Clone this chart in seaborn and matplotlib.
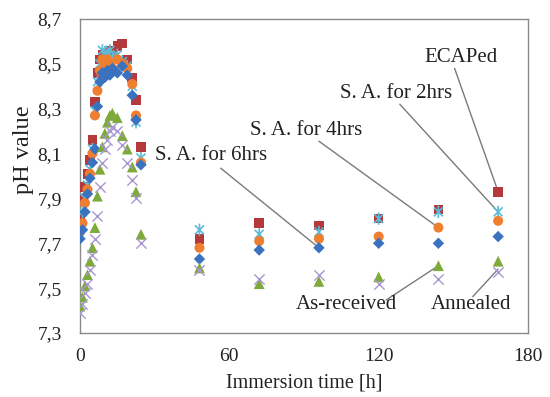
import numpy as np
import pandas as pd
import matplotlib
matplotlib.use("Agg")
import matplotlib.pyplot as plt
from matplotlib.path import Path
from matplotlib.ticker import FuncFormatter, FixedLocator
import seaborn as sns

# ---- data ----
time_h = [0, 1, 2, 3, 4, 5, 6, 7, 8, 9, 10, 11, 12, 13, 15, 17, 19, 21, 22.5, 24.5,
          48, 72, 96, 120, 144, 168]
ecaped = [7.81, 7.90, 7.95, 8.01, 8.07, 8.16, 8.33, 8.46, 8.52, 8.54, 8.53, 8.55, 8.56,
          8.55, 8.58, 8.59, 8.52, 8.44, 8.34, 8.13, 7.72, 7.79, 7.78, 7.81, 7.85, 7.93]
sa_2hrs = [7.77, 7.84, 7.90, 7.96, 8.03, 8.12, 8.29, 8.42, 8.50, 8.56, 8.55, 8.54, 8.56,
           8.53, 8.54, 8.51, 8.49, 8.40, 8.24, 8.08, 7.76, 7.74, 7.75, 7.81, 7.84, 7.84]
sa_4hrs = [7.75, 7.79, 7.88, 7.94, 8.01, 8.10, 8.27, 8.38, 8.47, 8.52, 8.50, 8.52, 8.50,
           8.48, 8.52, 8.50, 8.48, 8.41, 8.27, 8.06, 7.68, 7.71, 7.72, 7.73, 7.77, 7.80]
sa_6hrs = [7.72, 7.76, 7.84, 7.92, 7.99, 8.06, 8.12, 8.31, 8.42, 8.46, 8.44, 8.47, 8.45,
           8.48, 8.46, 8.49, 8.45, 8.36, 8.25, 8.05, 7.63, 7.67, 7.68, 7.70, 7.70, 7.73]
as_received = [7.42, 7.46, 7.51, 7.56, 7.62, 7.68, 7.77, 7.91, 8.03, 8.13, 8.19, 8.24, 8.27,
               8.28, 8.26, 8.18, 8.12, 8.04, 7.93, 7.74, 7.59, 7.52, 7.53, 7.55, 7.60, 7.62]
annealed = [7.39, 7.43, 7.48, 7.52, 7.58, 7.65, 7.72, 7.82, 7.95, 8.06, 8.12, 8.16, 8.20,
            8.22, 8.20, 8.14, 8.06, 7.98, 7.90, 7.70, 7.58, 7.54, 7.56, 7.52, 7.54, 7.57]

series_names = ["ECAPed", "S. A. for 2hrs", "S. A. for 4hrs", "S. A. for 6hrs",
                "As-received", "Annealed"]
series_values = [ecaped, sa_2hrs, sa_4hrs, sa_6hrs, as_received, annealed]

x_ticks = [0, 60, 120, 180]
y_ticks = [7.3, 7.5, 7.7, 7.9, 8.1, 8.3, 8.5, 8.7]

# label positions (data coords) and the point each leader line points to
label_text = ["ECAPed", "S. A. for 2hrs", "S. A. for 4hrs", "S. A. for 6hrs",
              "As-received", "Annealed"]
label_xy = [(153.0, 8.53), (127.0, 8.37), (91.0, 8.205), (52.5, 8.09),
            (107.0, 7.425), (157.0, 7.425)]
line_start = [(150.5, 8.48), (128.5, 8.32), (96.0, 8.155), (56.5, 8.035),
              (123.0, 7.447), (157.8, 7.462)]
line_end = [(168, 7.93), (168, 7.84), (144, 7.77), (96, 7.68), (144, 7.60), (168, 7.585)]

# ---- styling ----
sns.set_theme(style="white")
plt.rcParams["font.family"] = ["Liberation Serif", "DejaVu Serif"]

asterisk = Path([(0, -1), (0, 1), (-0.72, -0.72), (0.72, 0.72), (-0.72, 0.72), (0.72, -0.72)],
                [Path.MOVETO, Path.LINETO, Path.MOVETO, Path.LINETO, Path.MOVETO, Path.LINETO])

styles = [
    dict(marker="s", color="#B5393B", s=48, kind="fill"),
    dict(marker=asterisk, color="#5BBBD8", s=80, kind="path", lw=1.2),
    dict(marker="o", color="#EE7E30", s=52, kind="fill"),
    dict(marker="D", color="#3A72C0", s=34, kind="fill"),
    dict(marker="^", color="#7DAA3A", s=60, kind="fill"),
    dict(marker="x", color="#A996D2", s=55, kind="line", lw=1.0),
]

fig = plt.figure(figsize=(5.5, 3.97), dpi=100)
ax = fig.add_axes([80 / 550, 1 - 333 / 397, 448 / 550, 314 / 397])

for name, vals, st in zip(series_names, series_values, styles):
    df = pd.DataFrame({"time": time_h, "pH": vals})
    kw = dict(x="time", y="pH", data=df, ax=ax, marker=st["marker"], color=st["color"],
              s=st["s"], zorder=3)
    if st["kind"] == "fill":
        kw.update(edgecolor="none", linewidth=0)
    elif st["kind"] == "path":
        kw.update(edgecolor=st["color"], facecolor="none", linewidth=st["lw"])
    else:
        kw.update(linewidth=st["lw"])
    sns.scatterplot(**kw)

for txt, lxy, ls, le in zip(label_text, label_xy, line_start, line_end):
    ax.text(lxy[0], lxy[1], txt, ha="center", va="center", fontsize=15, color="#222222")
    ax.plot([ls[0], le[0]], [ls[1], le[1]], color="#7a7a7a", lw=1.0, zorder=2)

ax.set_xlim(0, 180)
ax.set_ylim(7.3, 8.7)
ax.xaxis.set_major_locator(FixedLocator(x_ticks))
ax.yaxis.set_major_locator(FixedLocator(y_ticks))
ax.yaxis.set_major_formatter(FuncFormatter(lambda v, p: f"{v:.1f}".replace(".", ",")))
ax.xaxis.set_major_formatter(FuncFormatter(lambda v, p: f"{v:.0f}"))
ax.tick_params(axis="both", direction="in", length=5, width=0.9, color="#888888",
               labelsize=14, labelcolor="#222222")
ax.tick_params(axis="y", pad=13)
ax.tick_params(axis="x", pad=11)
ax.set_xlabel("Immersion time [h]", fontsize=14.5, color="#222222", labelpad=6)
ax.set_ylabel("pH value", fontsize=17.5, color="#222222", labelpad=2)
ax.yaxis.set_label_coords(-0.102, 0.583)
for sp in ax.spines.values():
    sp.set_visible(True)
    sp.set_color("#8a8a8a")
    sp.set_linewidth(1.0)

fig.savefig("out.png", dpi=100)
